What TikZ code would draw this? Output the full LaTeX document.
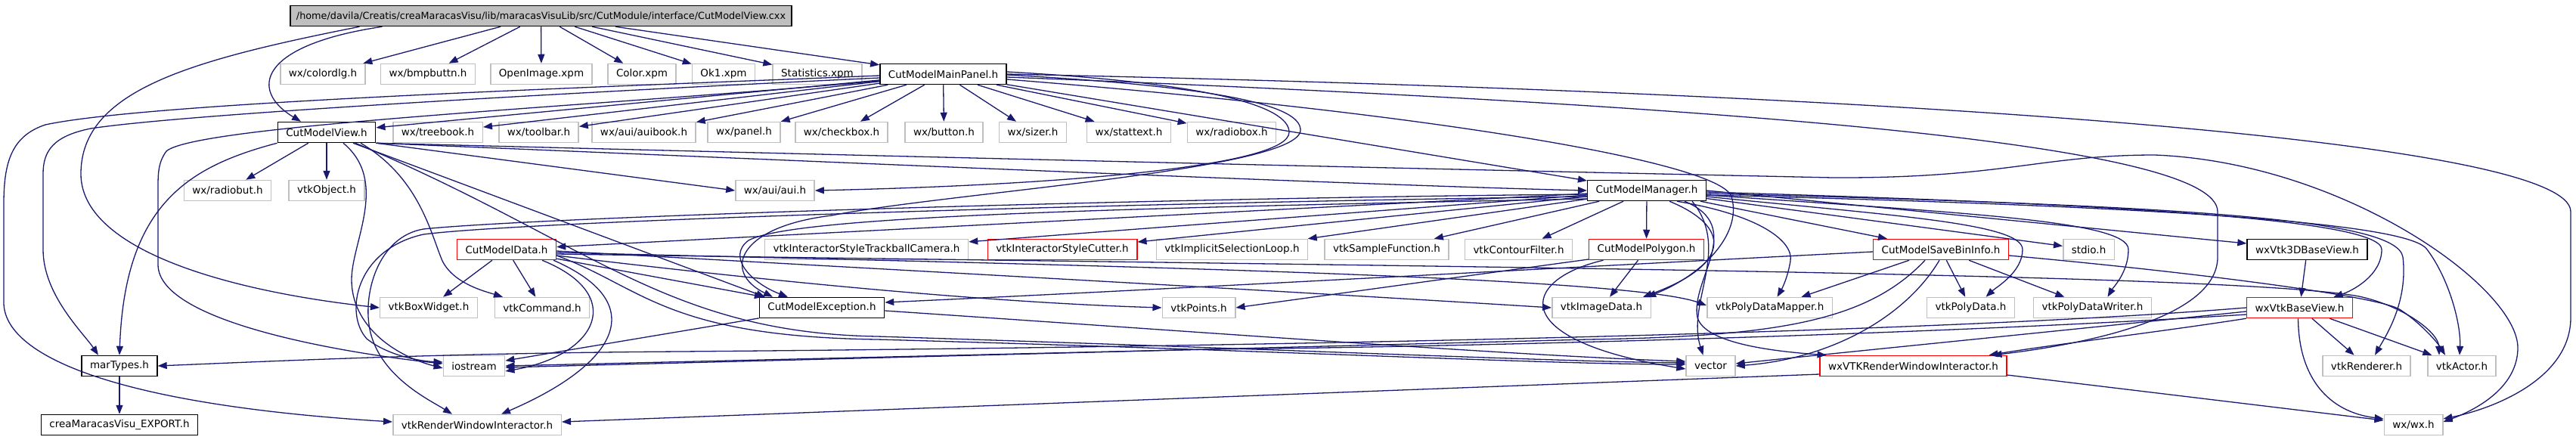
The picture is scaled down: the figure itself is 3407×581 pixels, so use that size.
\documentclass[tikz,border=0pt]{standalone}
\usepackage{fontspec}
\setmainfont{DejaVu Sans}
\usetikzlibrary{arrows.meta}
\definecolor{edgeblue}{RGB}{25,25,112}
\definecolor{boxgrey}{RGB}{191,191,191}
\definecolor{boxred}{RGB}{255,0,0}

\begin{document}
\begin{tikzpicture}[x=1pt, y=-1pt, >={Triangle[length=12pt,width=9pt]},
		every node/.style={font=\fontsize{13.5}{16}\selectfont, inner xsep=11pt, inner ysep=2pt, minimum height=27pt, line width=1.5pt},
		rootbox/.style={draw=black, fill=boxgrey, font=\fontsize{12.8}{16}\selectfont, inner xsep=8pt},
		hdr/.style={draw=black},
		ext/.style={draw=boxgrey},
		cut/.style={draw=boxred},
		dep/.style={->, draw=edgeblue, line width=1.3pt}]
				\useasboundingbox (0,0) rectangle (3407,581);
				\node[rootbox] (src) at (715.5,21) {/home/davila/Creatis/creaMaracasVisu/lib/maracasVisuLib/src/CutModule/interface/CutModelView.cxx};
				\node[ext] (colordlg) at (427,98) {wx/colordlg.h};
				\node[ext] (bmpbuttn) at (566,98) {wx/bmpbuttn.h};
				\node[ext] (openimg) at (716,98) {OpenImage.xpm};
				\node[ext] (colorxpm) at (849,98) {Color.xpm};
				\node[ext] (okxpm) at (957,98) {Ok1.xpm};
				\node[ext] (statxpm) at (1081,98) {Statistics.xpm};
				\node[hdr] (panel) at (1247.5,98) {CutModelMainPanel.h};
				\node[hdr] (view) at (432,175) {CutModelView.h};
				\node[ext] (treebook) at (579,175) {wx/treebook.h};
				\node[ext] (toolbar) at (712.5,175) {wx/toolbar.h};
				\node[ext] (auibook) at (851.5,175) {wx/aui/auibook.h};
				\node[ext] (wxpanel) at (984,175) {wx/panel.h};
				\node[ext] (checkbox) at (1113,175) {wx/checkbox.h};
				\node[ext] (button) at (1248.5,175) {wx/button.h};
				\node[ext] (sizer) at (1366,175) {wx/sizer.h};
				\node[ext] (stattext) at (1493,175) {wx/stattext.h};
				\node[ext] (radiobox) at (1629,175) {wx/radiobox.h};
				\node[ext] (radiobut) at (301,252) {wx/radiobut.h};
				\node[ext] (vtkobj) at (432,252) {vtkObject.h};
				\node[ext] (aui) at (1025,252) {wx/aui/aui.h};
				\node[hdr] (manager) at (2178,252) {CutModelManager.h};
				\node[cut] (data) at (670,330) {CutModelData.h};
				\node[ext] (trackball) at (1146,330) {vtkInteractorStyleTrackballCamera.h};
				\node[cut] (cutter) at (1405,330) {vtkInteractorStyleCutter.h};
				\node[ext] (selloop) at (1629.5,330) {vtkImplicitSelectionLoop.h};
				\node[ext] (samplefn) at (1834,330) {vtkSampleFunction.h};
				\node[ext] (contour) at (2008.5,330) {vtkContourFilter.h};
				\node[cut] (polygon) at (2177.5,330) {CutModelPolygon.h};
				\node[cut] (savebin) at (2567,330) {CutModelSaveBinInfo.h};
				\node[ext] (stdio) at (2762.5,330) {stdio.h};
				\node[hdr] (base3d) at (3051.5,330) {wxVtk3DBaseView.h};
				\node[ext] (boxwidget) at (567,407) {vtkBoxWidget.h};
				\node[ext] (command) at (717,407) {vtkCommand.h};
				\node[hdr] (exception) at (1087,407) {CutModelException.h};
				\node[ext] (points) at (1585.5,407) {vtkPoints.h};
				\node[ext] (imagedata) at (2118,407) {vtkImageData.h};
				\node[ext] (pdmapper) at (2340.5,407) {vtkPolyDataMapper.h};
				\node[ext] (polydata) at (2606.5,407) {vtkPolyData.h};
				\node[ext] (pdwriter) at (2767.5,407) {vtkPolyDataWriter.h};
				\node[cut] (baseview) at (3041.5,407) {wxVtkBaseView.h};
				\node[hdr] (martypes) at (158,484) {marTypes.h};
				\node[ext] (iostream) at (627,484) {iostream};
				\node[ext] (vector) at (2262.5,484) {vector};
				\node[cut] (wxrwi) at (2530.5,484) {wxVTKRenderWindowInteractor.h};
				\node[ext] (renderer) at (3130,484) {vtkRenderer.h};
				\node[ext] (actor) at (3256,484) {vtkActor.h};
				\node[hdr] (export) at (158,562) {creaMaracasVisu\_EXPORT.h};
				\node[ext] (vtkrwi) at (631,562) {vtkRenderWindowInteractor.h};
				\node[ext] (wxwx) at (3192,562) {wx/wx.h};
				\draw[dep] ([xshift=-210]src.south) .. controls (340,60) and (330,120) .. ([xshift=-34]view.north);
				\draw[dep] ([xshift=-240]src.south) .. controls (250,80) and (107,120) .. (107,230) .. controls (107,330) and (300,385) .. (boxwidget.west);
				\draw[dep] (src) -- (colordlg);
				\draw[dep] (src) -- (bmpbuttn);
				\draw[dep] (src) -- (openimg);
				\draw[dep] (src) -- (colorxpm);
				\draw[dep] (src) -- (okxpm);
				\draw[dep] (src) -- (statxpm);
				\draw[dep] (src) -- (panel);
				\draw[dep] (panel) -- (treebook);
				\draw[dep] (panel) -- (toolbar);
				\draw[dep] (panel) -- (auibook);
				\draw[dep] (panel) -- (wxpanel);
				\draw[dep] (panel) -- (checkbox);
				\draw[dep] (panel) -- (button);
				\draw[dep] (panel) -- (sizer);
				\draw[dep] (panel) -- (stattext);
				\draw[dep] (panel) -- (radiobox);
				\draw[dep] (panel) -- (view);
				\draw[dep] (panel) -- (manager);
				\draw[dep] ([yshift=-2]panel.west) .. controls (800,115) and (200,135) .. (60,165) .. controls (15,180) and (5,215) .. (5,270) -- (5,400) .. controls (5,470) and (150,535) .. ([yshift=4]vtkrwi.west);
				\draw[dep] ([yshift=-5]panel.west) .. controls (800,120) and (250,150) .. (120,170) .. controls (70,180) and (57,200) .. (57,230) -- (57,330) .. controls (57,390) and (110,440) .. ([xshift=-28]martypes.north);
				\draw[dep] ([yshift=-9]panel.west) .. controls (800,140) and (260,165) .. (220,200) .. controls (209,215) and (209,230) .. (209,250) -- (209,350) .. controls (209,430) and (480,470) .. ([yshift=3]iostream.west);
				\draw[dep] ([yshift=3]panel.east) .. controls (1600,110) and (1705,140) .. (1705,175) .. controls (1705,220) and (1400,245) .. (aui.east);
				\draw[dep] ([yshift=-1]panel.east) .. controls (1620,115) and (1720,140) .. (1720,172) .. controls (1720,225) and (1250,255) .. (1100,285) .. controls (975,300) and (955,360) .. ([xshift=-65]exception.north);
				\draw[dep] (panel.east) .. controls (2600,125) and (3400,190) .. (3400,280) -- (3400,420) .. controls (3400,500) and (3300,540) .. ([yshift=8]wxwx.east);
				\draw[dep] ([yshift=-4]panel.east) .. controls (2300,140) and (2933,190) .. (2933,280) -- (2933,340) .. controls (2933,420) and (2760,455) .. ([xshift=105]wxrwi.north);
				\draw[dep] ([yshift=-7]panel.east) .. controls (1900,150) and (2275,215) .. (2290,260) .. controls (2305,310) and (2250,365) .. ([xshift=60]imagedata.north);
				\draw[dep] (view.south west) .. controls (250,220) and (165,270) .. (martypes.north);
				\draw[dep] (view) -- (radiobut);
				\draw[dep] (view) -- (vtkobj);
				\draw[dep] ([xshift=22]view.south) .. controls (515,240) and (465,320) .. (465,370) .. controls (465,430) and (520,470) .. ([yshift=-3]iostream.west);
				\draw[dep] ([xshift=45]view.south) .. controls (555,235) and (570,310) .. (585,345) .. controls (600,375) and (640,385) .. ([xshift=-52]command.north);
				\draw[dep] ([xshift=35]view.south) -- ([xshift=-75]exception.north);
				\draw[dep] ([xshift=38]view.south) .. controls (780,320) and (880,440) .. (1160,445) .. controls (1700,462) and (2050,478) .. ([yshift=4]vector.west);
				\draw[dep] (view.south east) -- (aui.west);
				\draw[dep] (view.south east) .. controls (1000,210) and (1800,245) .. (manager.west);
				\draw[dep] (view.south east) .. controls (1500,215) and (2100,228) .. (2424,235) .. controls (2650,236) and (2700,205) .. (2850,205) .. controls (3100,215) and (3330,380) .. (3330,460) .. controls (3330,510) and (3280,540) .. ([yshift=4]wxwx.east);
				\draw[dep] (data) -- (boxwidget);
				\draw[dep] (data) -- (command);
				\draw[dep] (data) -- (exception);
				\draw[dep] ([xshift=47]data.south) .. controls (830,390) and (790,470) .. ([yshift=-7]iostream.east);
				\draw[dep] ([xshift=62]data.south) .. controls (860,400) and (820,480) .. ([xshift=32]vtkrwi.north);
				\draw[dep] ([yshift=-8]data.east) .. controls (850,380) and (880,445) .. (1160,449) .. controls (1700,464) and (2050,482) .. ([yshift=2]vector.west);
				\draw[dep] ([yshift=-2]data.east) .. controls (1100,352) and (1700,385) .. (imagedata.west);
				\draw[dep] ([yshift=-4]data.east) .. controls (1400,350) and (2150,365) .. ([yshift=3]pdmapper.west);
				\draw[dep] ([yshift=-6]data.east) .. controls (1800,352) and (2950,360) .. (3120,392) .. controls (3180,405) and (3225,440) .. ([xshift=-30]actor.north);
				\draw[dep] ([yshift=-8]data.east) .. controls (1000,370) and (1300,400) .. (points.west);
				\draw[dep] (exception) -- (iostream);
				\draw[dep] ([yshift=-4]exception.east) .. controls (1600,440) and (2000,470) .. ([yshift=6]vector.west);
				\draw[dep] (polygon) -- (imagedata);
				\draw[dep] ([xshift=-57]polygon.south) .. controls (2010,370) and (1990,450) .. ([yshift=-4]vector.west);
				\draw[dep] ([yshift=-13]polygon.west) -- (points.east);
				\draw[dep] (savebin) -- (pdmapper);
				\draw[dep] (savebin) -- (polydata);
				\draw[dep] (savebin) -- (pdwriter);
				\draw[dep] ([yshift=-3]savebin.west) .. controls (2200,347) and (1500,385) .. ([yshift=7]exception.east);
				\draw[dep] ([xshift=-21]savebin.south) .. controls (2470,425) and (2350,445) .. (2100,449) -- ([yshift=-2]iostream.east);
				\draw[dep] ([xshift=-2]savebin.south) .. controls (2520,420) and (2420,475) .. (vector.east);
				\draw[dep] ([yshift=-8]savebin.east) .. controls (2900,360) and (3150,392) .. (3175,410) .. controls (3205,430) and (3225,455) .. ([xshift=-22]actor.north);
				\draw[dep] (manager) -- (data);
				\draw[dep] (manager) -- (trackball);
				\draw[dep] (manager) -- (cutter);
				\draw[dep] (manager) -- (selloop);
				\draw[dep] (manager) -- (samplefn);
				\draw[dep] (manager) -- (contour);
				\draw[dep] (manager) -- (polygon);
				\draw[dep] (manager) -- (savebin);
				\draw[dep] (manager) -- (stdio);
				\draw[dep] (manager.east) -- ([yshift=8]base3d.west);
				\draw[dep] ([yshift=-2]manager.east) .. controls (2800,270) and (3150,290) .. (3150,330) .. controls (3150,365) and (3110,385) .. ([xshift=45]baseview.north);
				\draw[dep] ([yshift=-4]manager.east) .. controls (2900,272) and (3170,290) .. (3178,340) .. controls (3185,400) and (3155,445) .. ([xshift=11]renderer.north);
				\draw[dep] ([yshift=-6]manager.east) .. controls (2950,275) and (3190,300) .. (3210,330) .. controls (3240,370) and (3255,430) .. ([xshift=-3]actor.north);
				\draw[dep] ([yshift=-6]manager.east) .. controls (2600,282) and (2815,292) .. (2815,330) .. controls (2815,360) and (2795,380) .. ([xshift=20]pdwriter.north);
				\draw[dep] ([yshift=-8]manager.east) .. controls (2500,285) and (2675,295) .. (2675,330) .. controls (2675,360) and (2640,380) .. ([xshift=20]polydata.north);
				\draw[dep] ([xshift=40]manager.south) .. controls (2330,285) and (2372,320) .. (2368,345) .. controls (2364,370) and (2355,385) .. ([xshift=10]pdmapper.north);
				\draw[dep] ([xshift=30]manager.south) .. controls (2290,300) and (2290,350) .. ([xshift=55]imagedata.north);
				\draw[dep] ([xshift=50]manager.south) .. controls (2310,300) and (2235,370) .. (2245,420) .. controls (2255,455) and (2350,465) .. ([xshift=-115]wxrwi.north);
				\draw[dep] ([xshift=60]manager.south) .. controls (2290,330) and (2230,400) .. ([xshift=-10]vector.north);
				\draw[dep] ([yshift=-8]manager.west) .. controls (1500,268) and (700,292) .. (560,310) .. controls (470,330) and (455,415) .. (485,448) .. controls (515,472) and (560,478) .. ([yshift=5]iostream.west);
				\draw[dep] ([yshift=-5]manager.west) .. controls (1500,262) and (700,288) .. (560,303) .. controls (500,313) and (478,390) .. (490,440) .. controls (505,500) and (570,530) .. ([xshift=-33]vtkrwi.north);
				\draw[dep] ([yshift=-11]manager.west) .. controls (1500,275) and (1050,285) .. (990,318) .. controls (960,340) and (995,375) .. ([xshift=-45]exception.north);
				\draw[dep] (baseview) -- (renderer);
				\draw[dep] (baseview) -- (actor);
				\draw[dep] ([xshift=-2]baseview.south) .. controls (3040,500) and (3080,545) .. ([yshift=8]wxwx.west);
				\draw[dep] (baseview.south west) .. controls (2850,440) and (2720,455) .. ([xshift=100]wxrwi.north);
				\draw[dep] ([yshift=-5]baseview.west) .. controls (2700,440) and (2400,470) .. ([yshift=3]vector.east);
				\draw[dep] ([yshift=-9]baseview.west) .. controls (2600,440) and (2000,458) .. (1600,462) -- (iostream.east);
				\draw[dep] (baseview.west) .. controls (2500,445) and (1500,460) .. (900,465) .. controls (600,467) and (400,476) .. (martypes.east);
				\draw[dep] ([yshift=-11]wxrwi.west) -- ([yshift=4]vtkrwi.east);
				\draw[dep] ([yshift=-12]wxrwi.east) -- ([yshift=6]wxwx.west);
				\draw[dep] (base3d) -- (baseview);
				\draw[dep] (martypes) -- (export);
			\end{tikzpicture}
\end{document}
